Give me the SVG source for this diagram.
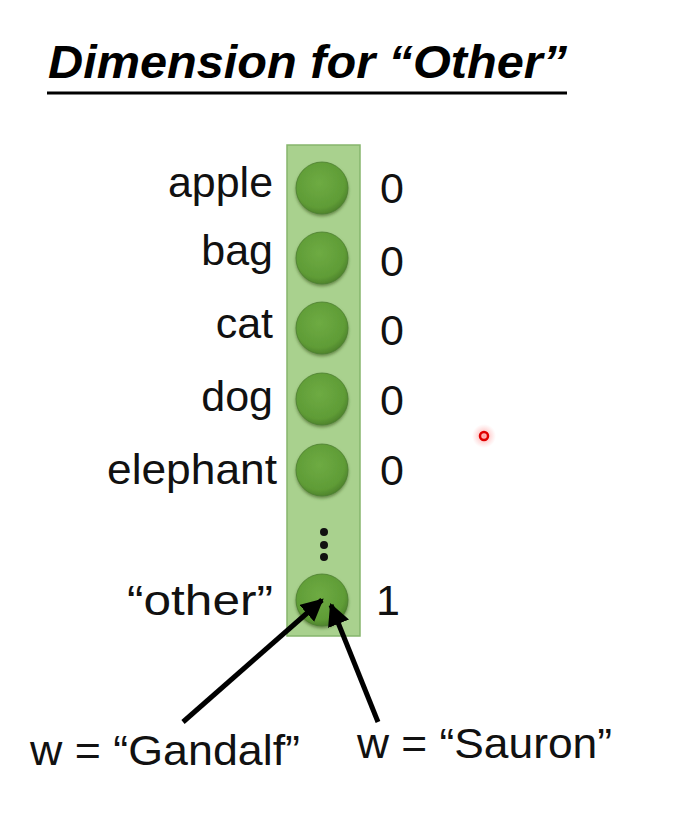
<svg xmlns="http://www.w3.org/2000/svg" width="681" height="815" viewBox="0 0 681 815">
<style>
.lbl{font-family:"Liberation Sans",Arial,sans-serif;font-size:43px;fill:#111;}
.end{text-anchor:end;}
.title{font-family:"Liberation Sans",Arial,sans-serif;font-size:46px;font-weight:bold;font-style:italic;fill:#000;}
.node{fill:url(#ng);stroke:#4d7f30;stroke-width:0.8;filter:url(#sh);}
.arrow{stroke:#000;stroke-width:5;fill:none;}
</style>
<defs>
<radialGradient id="ng" cx="45%" cy="40%" r="60%">
<stop offset="0" stop-color="#6eab43"/>
<stop offset="0.8" stop-color="#5f9c36"/>
<stop offset="1" stop-color="#4f852c"/>
</radialGradient>
<filter id="sh" x="-30%" y="-30%" width="160%" height="170%">
<feDropShadow dx="0" dy="2" stdDeviation="1.5" flood-color="#3a5a22" flood-opacity="0.6"/>
</filter>
<radialGradient id="glow">
<stop offset="0" stop-color="#ff4040" stop-opacity="0.5"/>
<stop offset="1" stop-color="#ff8080" stop-opacity="0"/>
</radialGradient>
<marker id="ah" viewBox="0 0 10 10" refX="9" refY="5" markerWidth="4.5" markerHeight="4.5" orient="auto" markerUnits="strokeWidth">
<path d="M0,0 L10,5 L0,10 Z" fill="#000"/>
</marker>
</defs>
<rect width="681" height="815" fill="#ffffff"/>
<g id="title">
<text class="title" x="48" y="78" textLength="519" lengthAdjust="spacingAndGlyphs">Dimension for “Other”</text>
<line x1="47" y1="93" x2="567" y2="93" stroke="#000" stroke-width="3"/>
</g>
<g id="vector">
<rect x="287" y="145" width="73" height="491" fill="#a9d18e" stroke="#86b56c" stroke-width="1.5"/>
</g>
<g id="node-apple"><circle class="node" cx="322" cy="188" r="26"/><text class="lbl end" x="273" y="197" textLength="105" lengthAdjust="spacingAndGlyphs">apple</text><text class="lbl" x="380" y="203">0</text></g>
<g id="node-bag"><circle class="node" cx="322" cy="258" r="26"/><text class="lbl end" x="273" y="265">bag</text><text class="lbl" x="380" y="276">0</text></g>
<g id="node-cat"><circle class="node" cx="322" cy="328" r="26"/><text class="lbl end" x="273" y="338">cat</text><text class="lbl" x="380" y="345">0</text></g>
<g id="node-dog"><circle class="node" cx="322" cy="399" r="26"/><text class="lbl end" x="273" y="411">dog</text><text class="lbl" x="380" y="415">0</text></g>
<g id="node-elephant"><circle class="node" cx="322" cy="470" r="26"/><text class="lbl end" x="277" y="484" textLength="170" lengthAdjust="spacingAndGlyphs">elephant</text><text class="lbl" x="380" y="485">0</text></g>
<g id="ellipsis">
<circle cx="324" cy="532" r="4" fill="#111"/>
<circle cx="324" cy="545" r="4" fill="#111"/>
<circle cx="324" cy="557" r="4" fill="#111"/>
</g>
<g id="node-other"><circle class="node" cx="322" cy="600" r="26"/><text class="lbl end" x="273" y="615" textLength="146" lengthAdjust="spacingAndGlyphs">“other”</text><text class="lbl" x="376" y="615">1</text></g>
<g id="connectors">
<line class="arrow" x1="183" y1="722" x2="322" y2="600" marker-end="url(#ah)"/>
<line class="arrow" x1="378" y1="722" x2="331" y2="605" marker-end="url(#ah)"/>
</g>
<g id="label-gandalf"><text class="lbl" x="30" y="765" textLength="270" lengthAdjust="spacingAndGlyphs">w = “Gandalf”</text></g>
<g id="label-sauron"><text class="lbl" x="357" y="758" textLength="255" lengthAdjust="spacingAndGlyphs">w = “Sauron”</text></g>
<g id="pointer">
<circle cx="484" cy="436" r="12" fill="url(#glow)"/>
<circle cx="484" cy="436" r="4" fill="none" stroke="#e00000" stroke-width="2.5"/>
</g>
</svg>
